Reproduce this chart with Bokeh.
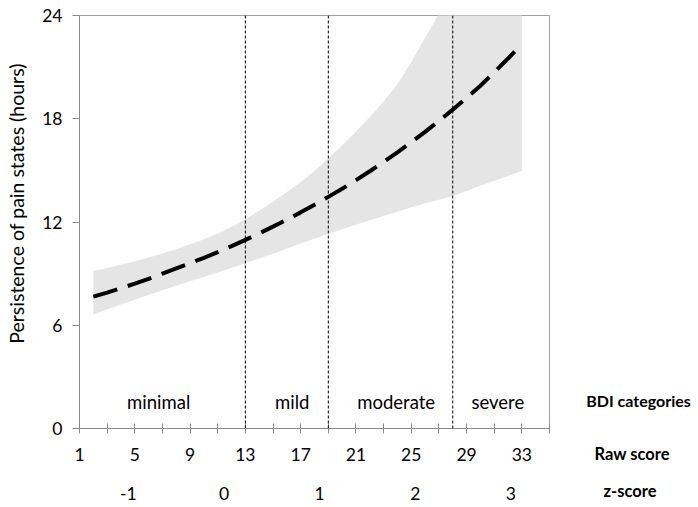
import math
from bokeh.plotting import figure
from bokeh.layouts import row
from bokeh.models import Range1d, LinearAxis, FixedTicker, Span, ColumnDataSource, Title
from bokeh.core.properties import value
from bokeh.embed import file_html
from bokeh.resources import INLINE

# ---- data ----
bdi_raw = list(range(2, 34))
fit_hours = [7.66, 7.90, 8.15, 8.42, 8.70, 9.00, 9.30, 9.60, 9.92, 10.25, 10.60, 10.96,
             11.34, 11.73, 12.14, 12.56, 13.00, 13.46, 13.93, 14.43, 14.95, 15.49, 16.05,
             16.63, 17.24, 17.87, 18.53, 19.21, 19.92, 20.70, 21.50, 22.34]
ci_lower = [6.63, 6.92, 7.20, 7.48, 7.76, 8.03, 8.29, 8.55, 8.81, 9.07, 9.33, 9.60,
            9.88, 10.16, 10.45, 10.75, 11.03, 11.32, 11.58, 11.84, 12.10, 12.35, 12.60,
            12.85, 13.08, 13.30, 13.50, 13.80, 14.10, 14.40, 14.68, 14.97]
ci_upper = [9.15, 9.33, 9.52, 9.72, 9.93, 10.17, 10.42, 10.70, 11.00, 11.33, 11.72, 12.16,
            12.65, 13.18, 13.74, 14.32, 14.96, 15.70, 16.45, 17.25, 18.10, 19.00, 20.00,
            21.30, 22.70, 24.10, 25.30, 26.90, 28.60, 30.40, 32.30, 34.30]

category_cutoffs = [13, 19, 28]
category_names = ["minimal", "mild", "moderate", "severe"]
category_centers = [6.73, 16.39, 23.91, 31.26]

raw_ticks = [1, 5, 9, 13, 17, 21, 25, 29, 33]
raw_minor_ticks = [3, 7, 11, 15, 19, 23, 27, 31, 35]
y_ticks = [0, 6, 12, 18, 24]
z_ticks = [-1, 0, 1, 2, 3]
z_tick_labels = ["-1", "0", "1", "2", "3"]
z_mean_raw = 11.45
z_sd_raw = 6.92

y_title = "Persistence of pain states (hours)"
cat_title = "BDI categories"
raw_title = "Raw score"
z_title = "z-score"

FONT = "Lato"
AX = "#8a8a8a"
H = 505
TOP = 15
BOTTOM = 77
LEFT_W = 30
RIGHT_W = 140

# ---------------- main plot ----------------
p = figure(width=49 + 470 + 5, height=H,
           x_range=Range1d(1, 35), y_range=Range1d(0, 24),
           output_backend="svg", toolbar_location=None,
           min_border_left=49, min_border_top=TOP, min_border_right=5, min_border_bottom=BOTTOM,
           background_fill_color="white", border_fill_color="white")
p.grid.visible = False
p.outline_line_color = "#a0a0a0"
p.outline_line_width = 1

p.extra_x_ranges = {"z": Range1d((1 - z_mean_raw) / z_sd_raw, (35 - z_mean_raw) / z_sd_raw)}

src = ColumnDataSource(dict(x=bdi_raw, fit=fit_hours, lo=ci_lower, hi=ci_upper))
p.varea(x="x", y1="lo", y2="hi", source=src, fill_color="#e6e5e6")
p.line(x="x", y="fit", source=src, line_color="black", line_width=4, line_dash="25 11")

for c in category_cutoffs:
    p.add_layout(Span(location=c, dimension="height", line_color="black",
                      line_width=1, line_dash="3 2"))

p.text(x=category_centers, y=[1.54] * len(category_centers), text=category_names,
       text_font=value(FONT), text_font_size="18.5px", text_align="center",
       text_baseline="middle", text_color="black")

# x axis (raw score)
xa = p.xaxis[0]
xa.ticker = FixedTicker(ticks=raw_ticks, minor_ticks=raw_minor_ticks)
xa.axis_line_color = AX
xa.major_tick_line_color = AX
xa.minor_tick_line_color = AX
xa.major_tick_in = 5
xa.major_tick_out = 5
xa.minor_tick_in = 5
xa.minor_tick_out = 5
xa.major_label_standoff = 14
xa.major_label_text_font = FONT
xa.major_label_text_font_size = "17.5px"
xa.major_label_text_color = "black"

# z-score axis
za = LinearAxis(x_range_name="z", ticker=FixedTicker(ticks=z_ticks))
za.major_label_overrides = dict(zip(z_ticks, z_tick_labels))
za.axis_line_color = None
za.major_tick_line_color = None
za.minor_tick_line_color = None
za.major_tick_in = 0
za.major_tick_out = 0
za.major_label_standoff = 23
za.major_label_text_font = FONT
za.major_label_text_font_size = "17.5px"
za.major_label_text_color = "black"
p.add_layout(za, "below")

# y axis
ya = p.yaxis[0]
ya.ticker = FixedTicker(ticks=y_ticks)
ya.axis_line_color = AX
ya.major_tick_line_color = AX
ya.minor_tick_line_color = None
ya.major_tick_in = 0
ya.major_tick_out = 7
ya.major_label_standoff = 10
ya.major_label_text_font = FONT
ya.major_label_text_font_size = "17.5px"
ya.major_label_text_color = "black"


def side_fig(w):
    # frame in page-pixel units so that it lines up with the main plot frame
    f = figure(width=w, height=H, x_range=Range1d(0, w), y_range=Range1d(H - BOTTOM, TOP),
               output_backend="svg", toolbar_location=None,
               x_axis_location=None, y_axis_location=None,
               min_border_left=0, min_border_right=0,
               min_border_top=TOP, min_border_bottom=BOTTOM,
               background_fill_color="white", border_fill_color="white")
    f.grid.visible = False
    f.outline_line_color = None
    return f


# left strip with the vertical axis title
left = side_fig(LEFT_W)
left.text(x=[15.8], y=[203], text=[y_title], angle=math.pi / 2,
          text_font=value(FONT), text_font_size="19.5px", text_align="center",
          text_baseline="middle", text_color="black")

# right strip with the row titles
right = side_fig(RIGHT_W)
right.text(x=[84], y=[400], text=[cat_title],
           text_font=value(FONT), text_font_size="16px", text_font_style="bold",
           text_align="center", text_baseline="middle", text_color="black")
right.add_layout(Title(text=raw_title, align="left", offset=40, standoff=26,
                       text_font=FONT, text_font_size="16.5px", text_font_style="bold",
                       text_color="black"), "below")
right.add_layout(Title(text=z_title, align="left", offset=49, standoff=5,
                       text_font=FONT, text_font_size="16.5px", text_font_style="bold",
                       text_color="black"), "below")

layout = row(left, p, right, spacing=0)
open("out.html", "w").write(file_html(layout, INLINE))
